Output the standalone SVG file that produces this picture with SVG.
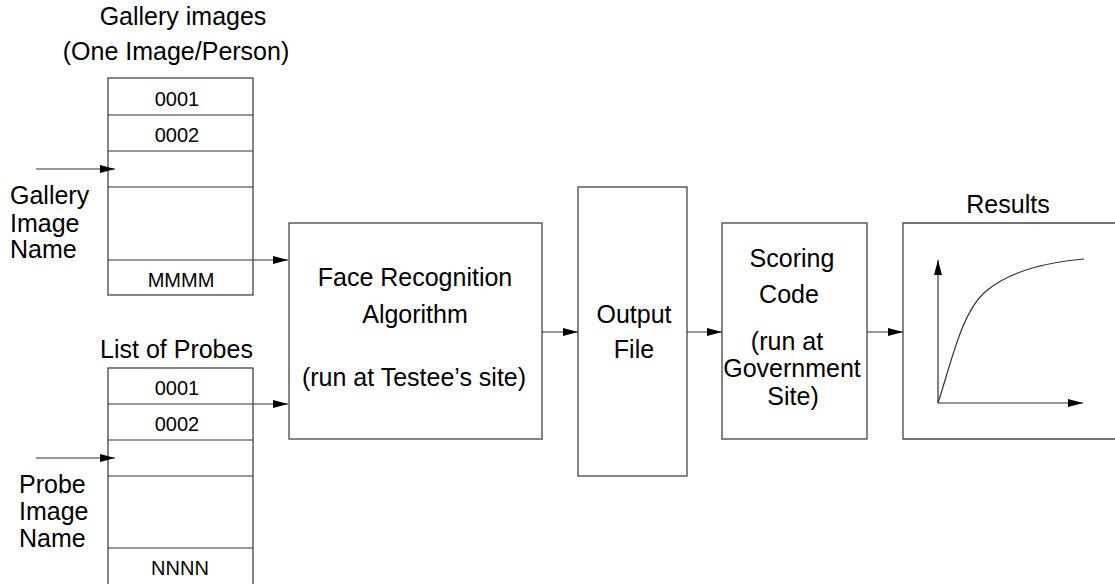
<svg xmlns="http://www.w3.org/2000/svg" width="1115" height="584" viewBox="0 0 1115 584">
<style>
text{font-family:"Liberation Sans",Arial,sans-serif;font-size:25px;fill:#000}
.c{text-anchor:middle}
.cell{font-size:20px;text-anchor:middle}
.box{fill:none;stroke:#444;stroke-width:1.3}
.ln{fill:none;stroke:#333;stroke-width:1.2}
.ar{fill:none;stroke:#333;stroke-width:1.2;marker-end:url(#ah)}
</style>
<defs>
<marker id="ah" viewBox="0 0 15 8" refX="15" refY="4" markerWidth="15" markerHeight="8" markerUnits="userSpaceOnUse" orient="auto">
<path d="M0,0 L15,4 L0,8 Z" fill="#000"/>
</marker>
</defs>
<rect width="1115" height="584" fill="#fff"/>

<g id="gallery">
<text class="c" x="183" y="25">Gallery images</text>
<text class="c" x="176" y="60">(One Image/Person)</text>
<rect class="box" x="108" y="78" width="145" height="217"/>
<line class="ln" x1="108" y1="115" x2="253" y2="115"/>
<line class="ln" x1="108" y1="151" x2="253" y2="151"/>
<line class="ln" x1="108" y1="187" x2="253" y2="187"/>
<line class="ln" x1="108" y1="260" x2="253" y2="260"/>
<text class="cell" x="177" y="106">0001</text>
<text class="cell" x="177" y="142">0002</text>
<text class="cell" x="181" y="287">MMMM</text>
</g>

<g id="gallery-label">
<text x="10" y="204">Gallery</text>
<text x="10" y="232">Image</text>
<text x="10" y="258">Name</text>
</g>

<g id="probes">
<text class="c" x="176.5" y="358">List of Probes</text>
<rect class="box" x="108" y="368" width="145" height="230"/>
<line class="ln" x1="108" y1="404" x2="253" y2="404"/>
<line class="ln" x1="108" y1="440" x2="253" y2="440"/>
<line class="ln" x1="108" y1="476" x2="253" y2="476"/>
<line class="ln" x1="108" y1="548" x2="253" y2="548"/>
<text class="cell" x="177" y="395">0001</text>
<text class="cell" x="177" y="431">0002</text>
<text class="cell" x="180" y="575">NNNN</text>
</g>

<g id="probe-label">
<text x="19" y="493">Probe</text>
<text x="19" y="520">Image</text>
<text x="19" y="547">Name</text>
</g>

<g id="fra">
<rect class="box" x="289" y="223" width="253" height="216"/>
<text class="c" x="415" y="286">Face Recognition</text>
<text class="c" x="415" y="323">Algorithm</text>
<text class="c" x="414" y="386">(run at Testee’s site)</text>
</g>

<g id="output">
<rect class="box" x="578" y="187" width="109" height="289"/>
<text class="c" x="634" y="323">Output</text>
<text class="c" x="634" y="358">File</text>
</g>

<g id="scoring">
<rect class="box" x="722" y="223" width="145" height="216"/>
<text class="c" x="792" y="267">Scoring</text>
<text class="c" x="789" y="303">Code</text>
<text class="c" x="787" y="350">(run at</text>
<text class="c" x="792" y="377">Government</text>
<text class="c" x="793" y="405">Site)</text>
</g>

<g id="results">
<text class="c" x="1008" y="213">Results</text>
<path class="box" d="M1120,223 L903,223 L903,439 L1120,439"/>
<line class="ar" x1="938" y1="403" x2="938" y2="260"/>
<line class="ar" x1="938" y1="403" x2="1083" y2="403"/>
<path class="ln" d="M938,403 C952,360 962,312 985,292 C1010,270 1050,262 1084,259"/>
</g>

<g id="connectors">
<line class="ar" x1="36" y1="169" x2="115" y2="169"/>
<line class="ar" x1="36" y1="458" x2="115" y2="458"/>
<line class="ar" x1="253" y1="260" x2="288" y2="260"/>
<line class="ar" x1="253" y1="404" x2="288" y2="404"/>
<line class="ar" x1="542" y1="332" x2="578" y2="332"/>
<line class="ar" x1="687" y1="332" x2="722" y2="332"/>
<line class="ar" x1="867" y1="332" x2="903" y2="332"/>
</g>
</svg>
